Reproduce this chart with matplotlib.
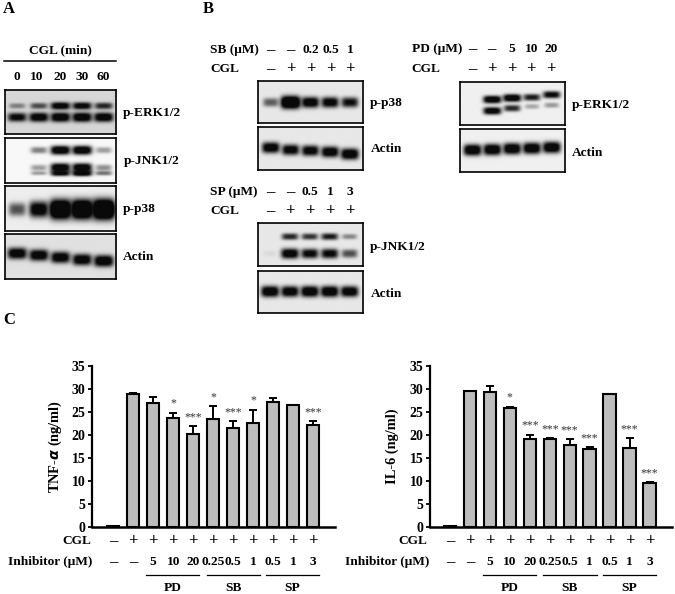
import numpy as np
import matplotlib
matplotlib.use('Agg')
import matplotlib.pyplot as plt

plt.rcParams['font.family'] = ['Liberation Serif', 'DejaVu Serif']
plt.rcParams['font.weight'] = 'bold'

W, H = 675, 594
FS = 9.6

# bar values
tnf_vals = [0.2, 28.9, 27.0, 23.6, 20.2, 23.5, 21.6, 22.6, 27.2, 26.5, 22.1]
tnf_errs = [0, 0.3, 1.2, 1.2, 1.7, 2.7, 1.4, 2.9, 0.9, 0.1, 0.9]
tnf_stars = ['', '', '', '*', '***', '*', '***', '*', '', '', '***']
il6_vals = [0.2, 29.5, 29.3, 25.9, 19.2, 19.0, 17.8, 16.9, 28.8, 17.2, 9.5]
il6_errs = [0, 0, 1.4, 0.2, 0.8, 0.3, 1.2, 0.4, 0, 2.1, 0.2]
il6_stars = ['', '', '', '*', '***', '***', '***', '***', '', '***', '***']
cgl_row = ['–', '+', '+', '+', '+', '+', '+', '+', '+', '+', '+']
inhibitor_row = ['–', '–', '5', '10', '20', '0.25', '0.5', '1', '0.5', '1', '3']
groups = ['PD', 'SB', 'SP']
y_ticks = [0, 5, 10, 15, 20, 25, 30, 35]

# band darkness per lane, estimated from the blots
a_erk_up = [.35, .55, .95, .9, .7]
a_erk_low = [.85, .95, 1, 1, .97]
a_jnk_1 = [0, .4, 1, 1, .3]
a_jnk_2 = [0, .3, 1, 1, .35]
a_jnk_3 = [0, .3, .9, 1, .45]
a_p38 = [.55, .95, 1.4, 1.4, 1.5]
a_actin = [.95, .95, .95, .95, 1]
b_p38 = [.5, 1.3, .95, .9, .8]
b_p38_actin = [.95, .9, .9, .95, 1]
b_erk_up = [0, 1, 1, .75, .85]
b_erk_low = [0, .95, .7, .25, .3]
b_erk_actin = [1, 1, 1, 1, 1]
b_jnk_up = [0, .7, .65, .75, .35]
b_jnk_low = [.05, .95, .85, .85, .55]
b_jnk_actin = [1, .95, 1, 1, .95]


def px_axes(fig, left, top, right, bottom):
    return fig.add_axes([left / W, 1 - bottom / H, (right - left) / W, (bottom - top) / H])


def blot(fig, box, lanes, bands, bg):
    # box in pixels, lanes = pixel centre of each lane, bands = (y, darkness, height)
    left, top, right, bottom = box
    ax = px_axes(fig, left, top, right, bottom)
    step = (lanes[-1] - lanes[0]) / 4
    x0 = (left - lanes[0]) / step
    x1 = (right - lanes[0]) / step
    xx, yy = np.meshgrid(np.linspace(x0, x1, 220), np.linspace(0, 1, 100))
    light = np.ones_like(xx)
    for ys, levels, h in bands:
        ys = ys if isinstance(ys, list) else [ys] * 5
        for i in range(5):
            level = levels[i]
            if level == 0:
                continue
            wide = 0.33 + 0.13 * min(level, 1.5)
            tall = h * (0.6 + 0.5 * min(level, 1.5))
            d = np.exp(-((xx - i) / wide) ** 4 - np.abs((yy - ys[i]) / tall) ** 2.6)
            light *= 1 - np.clip(d * level * 1.25, 0, 0.99)
    img = 0.03 + (bg - 0.03) * light
    ax.imshow(img, cmap='gray', vmin=0, vmax=1, aspect='auto', extent=(x0, x1, 1, 0),
              interpolation='bilinear')
    ax.set_xticks([])
    ax.set_yticks([])
    for s in ax.spines.values():
        s.set_linewidth(1.2)
    return ax


def bars(fig, left, right, x0, vals, errs, stars, ylabel, label_x, label_fs, groups_x, row_right, row_left):
    top, bottom = 366, 526.7
    step = 19.95
    ax = px_axes(fig, left, top, right, bottom)
    x = np.arange(len(vals))
    ax.bar(x, vals, width=0.62, color='#bdbdbd', edgecolor='black', linewidth=1.5)
    for i in x:
        if errs[i] > 0:
            ax.errorbar(i, vals[i], yerr=[[0], [errs[i]]], color='black', capsize=3.2,
                        elinewidth=1.4, capthick=1.4)
        if stars[i]:
            ax.text(i, vals[i] + errs[i] + 2.0, stars[i], ha='center', va='center',
                    fontsize=8.5, color='#333333', fontweight='normal')
    ax.set_xlim((left - x0) / step, (right - x0) / step)
    ax.set_ylim(0, 35)
    ax.set_yticks(y_ticks)
    ax.tick_params(axis='y', length=3, width=1.3, pad=1.5, labelsize=FS + 0.4)
    ax.set_xticks([])
    ax.spines['top'].set_visible(False)
    ax.spines['right'].set_visible(False)
    ax.spines['left'].set_linewidth(1.6)
    ax.spines['bottom'].set_linewidth(1.8)
    overlay.text(label_x, 446, ylabel, rotation=90, ha='center', va='center', fontsize=label_fs)

    trans = ax.get_xaxis_transform()
    frac = lambda py: (bottom - py) / (bottom - top)
    for i in x:
        ax.text(i, frac(540.7), cgl_row[i], transform=trans, ha='center', va='center',
                fontsize=FS + 2.5, clip_on=False)
        fs = FS + 2.5 if inhibitor_row[i] == '–' else FS
        ax.text(i, frac(561.7), inhibitor_row[i], transform=trans, ha='center', va='center',
                fontsize=fs, clip_on=False)
    overlay.text(row_right, 540.7, 'CGL', ha='right', va='center', fontsize=FS)
    overlay.text(row_left, 561.7, 'Inhibitor (μM)', ha='left', va='center', fontsize=FS)
    for name, (a, b) in zip(groups, groups_x):
        overlay.plot([a, b], [575, 575], color='black', lw=0.9)
        overlay.text((a + b) / 2, 587.7, name, ha='center', va='center', fontsize=FS)
    return ax


def header(x_label, y1, y2, name, doses, signs, lanes):
    overlay.text(x_label, y1, name, ha='left', va='center', fontsize=FS)
    overlay.text(x_label, y2, 'CGL', ha='left', va='center', fontsize=FS)
    for i in range(5):
        fs = FS + 2.5 if doses[i] == '–' else FS
        overlay.text(lanes[i], y1, doses[i], ha='center', va='center', fontsize=fs)
        overlay.text(lanes[i], y2, signs[i], ha='center', va='center', fontsize=FS + 2.5)


fig = plt.figure(figsize=(W / 100, H / 100), dpi=100)
overlay = fig.add_axes([0, 0, 1, 1], zorder=5)
overlay.set_xlim(0, W)
overlay.set_ylim(H, 0)
overlay.axis('off')

for letter, lx, ly in [('A', 3, 9), ('B', 203, 9), ('C', 3, 320)]:
    overlay.text(lx, ly, letter, ha='left', va='center', fontsize=12)

# panel A
lanes_a = [17, 37, 60, 82, 103]
overlay.text(60, 50.7, 'CGL (min)', ha='center', va='center', fontsize=FS)
overlay.plot([4, 116], [61.3, 61.3], color='black', lw=1.1)
for xp, t in zip(lanes_a, ['0', '10', '20', '30', '60']):
    overlay.text(xp, 77, t, ha='center', va='center', fontsize=FS)
blot(fig, (5, 90, 116, 134), lanes_a, [(.36, a_erk_up, .08), (.62, a_erk_low, .10)], .84)
blot(fig, (5, 138, 116, 183), lanes_a, [(.285, a_jnk_1, .09), (.67, a_jnk_2, .09), (.79, a_jnk_3, .06)], .97)
blot(fig, (5, 186, 116, 231), lanes_a, [(.52, a_p38, .17)], .93)
blot(fig, (5, 234, 116, 279), lanes_a, [([.43, .47, .52, .57, .60], a_actin, .12)], .88)
for t, xp, yp in [('p-ERK1/2', 123, 113), ('p-JNK1/2', 124, 161), ('p-p38', 123, 209), ('Actin', 123, 257)]:
    overlay.text(xp, yp, t, ha='left', va='center', fontsize=FS)

# panel B
lanes_sb = [270.7, 290.7, 310.7, 330.7, 350]
lanes_pd = [472, 491.7, 511.7, 531.3, 550.7]
lanes_sp = [270, 290, 310.3, 330.3, 349.7]
header(210, 50, 69.3, 'SB (μM)', ['–', '–', '0.2', '0.5', '1'], ['–', '+', '+', '+', '+'], lanes_sb)
header(411.7, 49, 69, 'PD (μM)', ['–', '–', '5', '10', '20'], ['–', '+', '+', '+', '+'], lanes_pd)
header(210, 191.7, 211, 'SP (μM)', ['–', '–', '0.5', '1', '3'], ['–', '+', '+', '+', '+'], lanes_sp)

blot(fig, (258, 81, 363, 123.3), lanes_sb, [(.52, b_p38, .12)], .91)
blot(fig, (258, 127.3, 363, 170), lanes_sb, [([.48, .53, .55, .58, .63], b_p38_actin, .12)], .91)
blot(fig, (459.7, 81.7, 564.7, 125), lanes_pd,
     [([.42, .42, .385, .37, .31], b_erk_up, .08), ([.68, .68, .62, .58, .55], b_erk_low, .08)], .94)
blot(fig, (459.7, 128.7, 564.7, 172), lanes_pd, [([.50, .49, .47, .46, .44], b_erk_actin, .12)], .94)
blot(fig, (258, 223, 363, 266.3), lanes_sp, [(.33, b_jnk_up, .08), (.72, b_jnk_low, .11)], .91)
blot(fig, (258, 270.5, 363, 313), lanes_sp, [(.5, b_jnk_actin, .12)], .91)
for t, xp, yp in [('p-p38', 370, 102.7), ('Actin', 371, 149.3), ('p-ERK1/2', 572, 104.7),
                  ('Actin', 572, 152.7), ('p-JNK1/2', 370, 246.7), ('Actin', 371, 293.7)]:
    overlay.text(xp, yp, t, ha='left', va='center', fontsize=FS)

# panel C
bars(fig, 92, 335, 113.3, tnf_vals, tnf_errs, tnf_stars, 'TNF-$\\mathbfit{α}$ (ng/ml)', 55, 10.4,
     [(146, 199), (207, 260), (266, 319)], 91, 8)
bars(fig, 430, 672, 450, il6_vals, il6_errs, il6_stars, 'IL-6 (ng/ml)', 392, 10.4,
     [(482.7, 536), (543, 597), (603, 656)], 427, 345)

overlay.set_xlim(0, W)
overlay.set_ylim(H, 0)
fig.savefig('out.png', dpi=100)
